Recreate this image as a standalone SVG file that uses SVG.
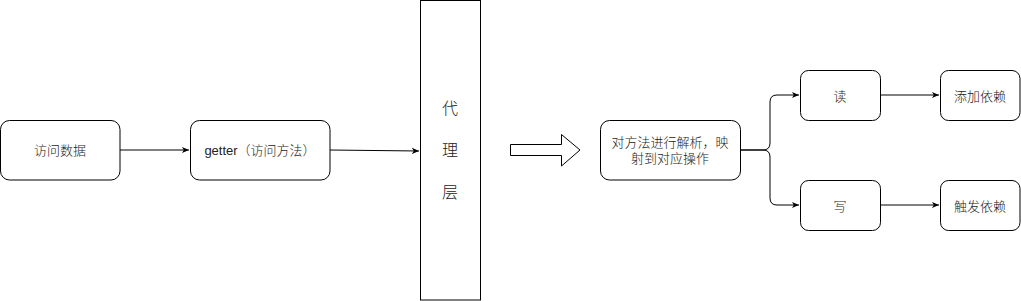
<svg xmlns="http://www.w3.org/2000/svg" width="1021" height="301" viewBox="0 0 1021 301">
<defs>
<style>
.box{fill:#fff;stroke:#000;stroke-width:1}
.t{font-family:"Liberation Sans","Noto Sans CJK SC",sans-serif;font-size:13px;font-weight:300;fill:#222;text-anchor:middle;dominant-baseline:central}
.big{font-size:16px}
.c{fill:none;stroke:#000;stroke-width:1}
</style>
<marker id="ah" viewBox="0 0 10 10" refX="9" refY="5" markerWidth="8" markerHeight="8" markerUnits="userSpaceOnUse" orient="auto">
<path d="M0,1 L9,5 L0,9 L2.5,5 Z" fill="#000"/>
</marker>
</defs>
<rect width="1021" height="301" fill="#fff"/>
<g id="connectors">
<path class="c" d="M120,150 H189" marker-end="url(#ah)"/>
<path class="c" d="M330,150 L419,151" marker-end="url(#ah)"/>
<path class="c" d="M740,150 H763 Q770,150 770,143 V102 Q770,95 777,95 H799" marker-end="url(#ah)"/>
<path class="c" d="M740,150 H763 Q770,150 770,157 V198 Q770,205 777,205 H799" marker-end="url(#ah)"/>
<path class="c" d="M880,95 H939" marker-end="url(#ah)"/>
<path class="c" d="M880,205 H939" marker-end="url(#ah)"/>
</g>
<g id="n-access">
<rect class="box" x="0.5" y="120.5" width="119.5" height="59.5" rx="9"/>
<text class="t" x="60" y="150">访问数据</text>
</g>
<g id="n-getter">
<rect class="box" x="190.5" y="120.5" width="139.5" height="59.5" rx="9"/>
<text class="t" x="260" y="150">getter（访问方法）</text>
</g>
<g id="n-proxy">
<rect class="box" x="420.5" y="0.5" width="60" height="299.5"/>
<text class="t big" x="450" y="108">代</text>
<text class="t big" x="450" y="150">理</text>
<text class="t big" x="450" y="192">层</text>
</g>
<g id="n-bigarrow">
<path d="M510.5,144.5 H561.5 V134.5 L580,150 L561.5,166 V155.5 H510.5 Z" fill="#fff" stroke="#000" stroke-width="1"/>
</g>
<g id="n-parse">
<rect class="box" x="600.5" y="120.5" width="140" height="59.5" rx="9"/>
<text class="t" x="670" y="142.5">对方法进行解析，映</text>
<text class="t" x="670" y="158">射到对应操作</text>
</g>
<g id="n-read">
<rect class="box" x="800.5" y="70.5" width="80" height="50" rx="8"/>
<text class="t" x="840" y="96">读</text>
</g>
<g id="n-write">
<rect class="box" x="800.5" y="180.5" width="80" height="50" rx="8"/>
<text class="t" x="840" y="206">写</text>
</g>
<g id="n-adddep">
<rect class="box" x="940.5" y="70.5" width="79.5" height="50" rx="8"/>
<text class="t" x="980" y="96">添加依赖</text>
</g>
<g id="n-trigdep">
<rect class="box" x="940.5" y="180.5" width="79.5" height="50" rx="8"/>
<text class="t" x="980" y="206">触发依赖</text>
</g>
</svg>
